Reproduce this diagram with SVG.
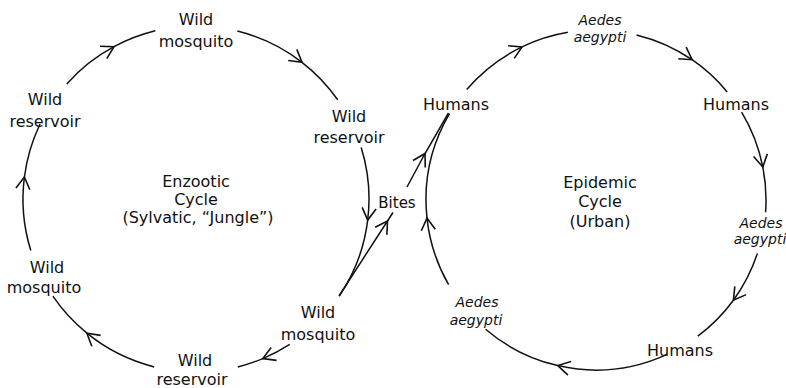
<svg xmlns="http://www.w3.org/2000/svg" width="786" height="388" viewBox="0 0 786 388">
<style>
.t{font-family:"DejaVu Sans","Liberation Sans",sans-serif;font-size:16px;fill:#111;text-anchor:middle}
.i{font-family:"DejaVu Sans","Liberation Sans",sans-serif;font-size:14px;font-style:italic;fill:#111;text-anchor:middle}
.c{fill:none;stroke:#111;stroke-width:1.5;marker-mid:url(#ah)}
</style>
<defs>
<marker id="ah" markerUnits="userSpaceOnUse" markerWidth="30" markerHeight="30" refX="0" refY="0" viewBox="-15 -15 30 30" orient="auto" overflow="visible">
<path d="M-12,-7 L0,0 L-12,7" fill="none" stroke="#111" stroke-width="1.6"/>
</marker>
</defs>
<rect width="786" height="388" fill="#fff"/>
<g id="connectors">
<path class="c" d="M66.8,83.9 A173,173 0 0 1 114,46.7 A173,173 0 0 1 155.3,30.8"/>
<path class="c" d="M237.3,31 A173,173 0 0 1 302,62.3 A173,173 0 0 1 337.7,99.8"/>
<path class="c" d="M361.2,147.5 A173,173 0 0 1 367.7,220.1 A173,173 0 0 1 339.3,296"/>
<path class="c" d="M289.7,344.4 A173,173 0 0 1 262.8,358.6 A173,173 0 0 1 237.8,366.9"/>
<path class="c" d="M154.2,366.9 A173,173 0 0 1 86.9,333.2 A173,173 0 0 1 52.9,296.2"/>
<path class="c" d="M30.8,250.5 A173,173 0 0 1 24.4,177 A173,173 0 0 1 40.1,124"/>
<path class="c" d="M466.7,89.6 A170,170 0 0 1 522,46.9 A170,170 0 0 1 567.9,32.3"/>
<path class="c" d="M636.5,34.9 A170,170 0 0 1 692.1,59.7 A170,170 0 0 1 727.2,91.9"/>
<path class="c" d="M741.6,112.2 A170,170 0 0 1 762.8,167 A170,170 0 0 1 765.6,212.2"/>
<path class="c" d="M757.4,253.4 A170,170 0 0 1 733.4,300.2 A170,170 0 0 1 697.8,336.1"/>
<path class="c" d="M666,354.9 A170,170 0 0 1 557.8,365.6 A170,170 0 0 1 485.6,329.3"/>
<path class="c" d="M448.6,284.7 A170,170 0 0 1 427,218.1 A170,170 0 0 1 449.5,113.7"/>
<path class="c" d="M339,296 L387.5,221 L393,212.5"/>
<path class="c" d="M407,187 L425,153.5 L448.5,113"/>
</g>
<g id="n-top-mosquito"><text class="t" x="196" y="25">Wild</text><text class="t" x="196" y="47">mosquito</text></g>
<g id="n-right-reservoir"><text class="t" x="349" y="122">Wild</text><text class="t" x="349" y="143">reservoir</text></g>
<g id="n-left-reservoir"><text class="t" x="45" y="105">Wild</text><text class="t" x="45" y="127">reservoir</text></g>
<g id="n-left-mosquito"><text class="t" x="47" y="273">Wild</text><text class="t" x="44" y="293">mosquito</text></g>
<g id="n-bottom-reservoir"><text class="t" x="195" y="366">Wild</text><text class="t" x="192" y="385">reservoir</text></g>
<g id="n-bottom-mosquito"><text class="t" x="318" y="318">Wild</text><text class="t" x="318" y="340">mosquito</text></g>
<g id="n-enzootic"><text class="t" x="196" y="187">Enzootic</text><text class="t" x="196" y="205">Cycle</text><text class="t" x="198" y="223">(Sylvatic, “Jungle”)</text></g>
<g id="n-bites"><text class="t" x="397" y="208" style="font-size:15px">Bites</text></g>
<g id="n-humans-left"><text class="t" x="456" y="110">Humans</text></g>
<g id="n-aedes-top"><text class="i" x="600" y="25">Aedes</text><text class="i" x="600" y="42">aegypti</text></g>
<g id="n-humans-right"><text class="t" x="736" y="110">Humans</text></g>
<g id="n-aedes-right"><text class="i" x="761" y="228">Aedes</text><text class="i" x="760" y="244">aegypti</text></g>
<g id="n-humans-bottom"><text class="t" x="680" y="356">Humans</text></g>
<g id="n-aedes-left"><text class="i" x="477" y="307">Aedes</text><text class="i" x="476" y="325">aegypti</text></g>
<g id="n-epidemic"><text class="t" x="600" y="188">Epidemic</text><text class="t" x="600" y="207">Cycle</text><text class="t" x="600" y="227">(Urban)</text></g>
</svg>
